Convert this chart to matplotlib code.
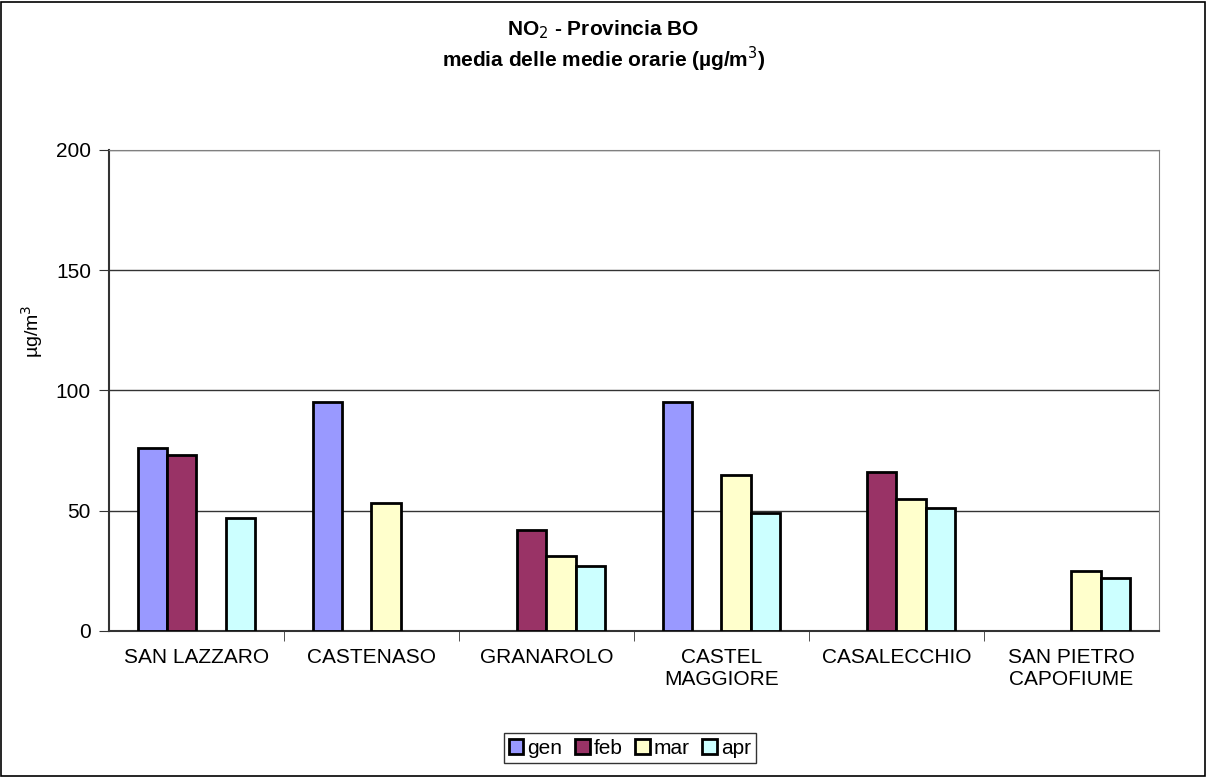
import numpy as np
import matplotlib
matplotlib.use("Agg")
import matplotlib.pyplot as plt
from matplotlib.patches import Rectangle

plt.rcParams['font.family'] = ['Liberation Sans', 'DejaVu Sans']

# data (NaN = no bar)
stations = ["SAN LAZZARO", "CASTENASO", "GRANAROLO", "CASTEL\nMAGGIORE",
            "CASALECCHIO", "SAN PIETRO\nCAPOFIUME"]
months = ["gen", "feb", "mar", "apr"]
gen = [76, 95, np.nan, 95, np.nan, np.nan]
feb = [73, np.nan, 42, np.nan, 66, np.nan]
mar = [np.nan, 53, 31, 65, 55, 25]
apr = [47, np.nan, 27, 49, 51, 22]
colors = ["#9999FF", "#993366", "#FFFFCC", "#CCFFFF"]

fig = plt.figure(figsize=(12.07, 7.78), dpi=100)
ax = fig.add_axes([0.0903, 0.189, 0.8699, 0.6183])

x = np.arange(len(stations))
w = 0.166
for i, (vals, c, lab) in enumerate(zip([gen, feb, mar, apr], colors, months)):
    ax.bar(x + (i - 1.5) * w, vals, width=w, color=c, edgecolor="black",
           linewidth=2, label=lab, zorder=3)

ax.set_xlim(-0.5, len(stations) - 0.5)
ax.set_ylim(0, 200)
ax.set_yticks([0, 50, 100, 150, 200])
ax.yaxis.grid(True, color="#333333", linewidth=1, zorder=0)
ax.set_xticks(x)
ax.set_xticklabels(stations, fontsize=15)
ax.tick_params(axis="x", length=0, pad=12)
ax.set_xticks(np.arange(0.5, len(stations) - 0.5, 1), minor=True)
ax.tick_params(axis="x", which="minor", length=7, color="#333333", direction="out")
ax.tick_params(axis="y", labelsize=15, length=7, color="#333333", direction="out", pad=6)

for s in ["top", "right"]:
    ax.spines[s].set_color("#808080")
for s in ["left", "bottom"]:
    ax.spines[s].set_color("#333333")
    ax.spines[s].set_linewidth(1.5)

ax.set_ylabel("µg/m$^3$", fontsize=14)
ax.yaxis.set_label_coords(-0.061, 0.624)

fig.text(0.5, 0.962, "NO$_2$ - Provincia BO", ha="center", va="center",
         fontsize=15, fontweight="bold")
fig.text(0.5, 0.924, "media delle medie orarie (µg/m$^3$)", ha="center",
         va="center", fontsize=15, fontweight="bold")

leg = fig.legend(loc="center", bbox_to_anchor=(0.522, 0.0385), ncol=4,
                 frameon=True, fancybox=False, edgecolor="black", fontsize=15,
                 handlelength=0.7, handleheight=0.7, handletextpad=0.2,
                 columnspacing=0.6, borderpad=0.25, borderaxespad=0)
leg.get_frame().set_linewidth(1)

fig.patches.append(Rectangle((0.001, 0.002), 0.997, 0.996, transform=fig.transFigure,
                             fill=False, edgecolor="black", linewidth=1.2))

fig.savefig("out.png", dpi=100)
